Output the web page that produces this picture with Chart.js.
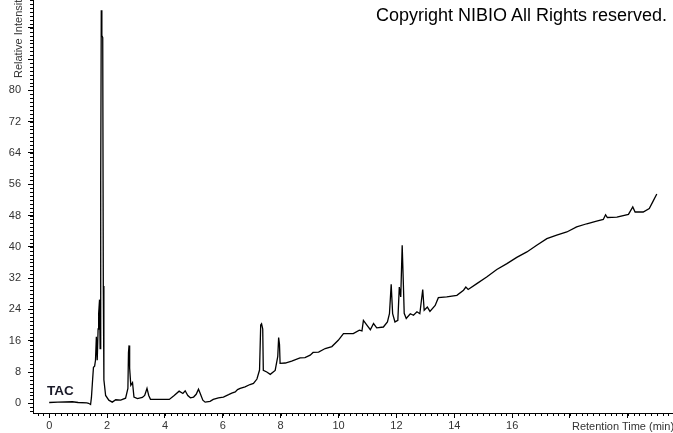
<!DOCTYPE html>
<html>
<head>
<meta charset="utf-8">
<script src="https://cdn.jsdelivr.net/npm/chart.js@4.4.1/dist/chart.umd.min.js"></script>
<style>
  body { margin: 0; background: #fff; }
  #wrap { position: relative; width: 673px; height: 433px; overflow: hidden; }
  .txt { position: absolute; white-space: nowrap; font-family: "Liberation Sans", Arial, sans-serif; }
  #copy { left: 376px; top: 5px; font-size: 18px; color: #000; }
  #tac { left: 47px; top: 383px; font-size: 13.5px; font-weight: bold; color: #1a1a28; }
  #ytitle { left: 12px; top: 78px; font-size: 11px; line-height: 13px; color: #333; transform: rotate(-90deg); transform-origin: 0 0; }
  #xtitle { left: 572px; top: 420px; font-size: 11px; line-height: 13px; color: #333; }
</style>
</head>
<body>
<div id="wrap">
  <canvas id="myChart" width="673" height="433"></canvas>
  <div class="txt" id="copy">Copyright NIBIO All Rights reserved.</div>
  <div class="txt" id="tac">TAC</div>
  <div class="txt" id="ytitle">Relative Intensity</div>
  <div class="txt" id="xtitle">Retention Time (min)</div>
</div>
<script>
// retention time (min) and relative intensity
const TIME = [
  0, 0.3, 0.8, 1.0, 1.3, 1.36, 1.43, 1.46, 1.50, 1.53, 1.57, 1.60, 1.63, 1.66, 1.69, 1.71, 1.74, 1.76,
  1.78, 1.80, 1.82, 1.85, 1.87, 1.89, 1.95, 2.06, 2.18, 2.30, 2.47, 2.64, 2.72, 2.74, 2.76, 2.78,
  2.82, 2.88, 2.93, 3.05, 3.22, 3.30, 3.38, 3.44, 3.50, 4.15, 4.32, 4.49, 4.62, 4.70, 4.79, 4.88,
  4.99, 5.08, 5.16, 5.22, 5.31, 5.39, 5.56, 5.67, 5.85, 6.02, 6.20, 6.31, 6.43, 6.51, 6.60, 6.77,
  6.94, 7.06, 7.18, 7.27, 7.31, 7.34, 7.38, 7.40, 7.52, 7.64, 7.81, 7.90, 7.93, 7.96, 7.98, 8.16,
  8.38, 8.67, 8.84, 9.02, 9.12, 9.31, 9.54, 9.77, 9.99, 10.17, 10.51, 10.72, 10.81, 10.86, 10.98,
  11.10, 11.21, 11.32, 11.55, 11.69, 11.76, 11.82, 11.87, 11.95, 12.05, 12.10, 12.15, 12.20, 12.24,
  12.27, 12.34, 12.48, 12.59, 12.71, 12.81, 12.91, 12.96, 13.07, 13.16, 13.34, 13.45, 13.74, 14.09,
  14.32, 14.40, 14.48, 14.78, 15.12, 15.47, 15.82, 16.16, 16.51, 16.85, 17.20, 17.54, 17.89, 18.23,
  18.58, 18.92, 19.15, 19.23, 19.29, 19.62, 20.02, 20.17, 20.25, 20.53, 20.74, 20.86, 21.00
]
const INTENSITY = [
  0.2, 0.3, 0.4, 0.2, 0.1, 0.0, -0.3, 1.5, 6, 9.2, 9.5, 11, 17, 11, 19, 23, 26.5, 14,
  57, 100.5, 94, 93.5, 30, 6, 2, 0.8, 0.3, 0.9, 0.8, 1.3, 3.8, 13, 14.8, 9,
  4.6, 5.3, 1.6, 1.2, 1.5, 2, 3.8, 2, 1, 1, 2, 3.1, 2.5, 3.2, 2, 1.4,
  1.6, 2.3, 3.6, 2.5, 0.8, 0.3, 0.5, 1, 1.4, 1.6, 2.2, 2.6, 2.9, 3.5, 3.8, 4.2,
  4.8, 5.1, 6.2, 8.5, 20, 20.3, 19, 8.4, 8, 7.4, 8.4, 12, 16.8, 15, 10.2, 10.3,
  10.8, 11.6, 11.7, 12.3, 13, 13.1, 14, 14.5, 16.1, 17.8, 17.8, 18.7, 18.5, 21.2, 20,
  18.8, 20.4, 19.3, 19.5, 20.8, 22.9, 30.4, 22.9, 20.8, 21.2, 29.7, 27.2, 40.4, 30.6,
  23, 21.7, 22.9, 22.5, 23.4, 22.9, 29.1, 23.8, 24.6, 23.5, 25, 27, 27.2, 27.6,
  28.9, 29.7, 29.1, 30.6, 32.3, 34.2, 35.7, 37.3, 38.7, 40.4, 42.1, 43, 43.8, 45.1,
  45.9, 46.6, 47, 48.2, 47.5, 47.6, 48.3, 50.2, 48.9, 48.9, 49.8, 51.5, 53.5
]
const X_TICKS = [0, 2, 4, 6, 8, 10, 12, 14, 16, 18, 20]
const X_LABEL_MAX = 16
const Y_TICKS = [0, 8, 16, 24, 32, 40, 48, 56, 64, 72, 80, 88, 96]
const Y_LABEL_MAX = 80
const X_MIN = -0.56, X_MAX = 21.56
const Y_MIN = -2.48, Y_MAX = 103.1
const X_MINOR = 0.2, Y_MINOR = 1

const tickFont = { family: "'Liberation Sans', Arial, sans-serif", size: 11 }

// small tick marks between the labelled ones
const minorTicksPlugin = {
  id: "minorTicks",
  afterDraw(chart) {
    const { ctx } = chart
    const x = chart.scales.x
    const y = chart.scales.y
    ctx.save()
    ctx.strokeStyle = "#000"
    ctx.lineWidth = 1
    ctx.beginPath()
    for (let i = Math.ceil(X_MIN / X_MINOR); i * X_MINOR <= X_MAX; i++) {
      const px = Math.round(x.getPixelForValue(i * X_MINOR)) + 0.5
      ctx.moveTo(px, x.top)
      ctx.lineTo(px, x.top + 3)
    }
    for (let i = Math.ceil(Y_MIN / Y_MINOR); i * Y_MINOR <= Y_MAX; i++) {
      const py = Math.round(y.getPixelForValue(i * Y_MINOR)) + 0.5
      ctx.moveTo(y.right, py)
      ctx.lineTo(y.right - 3, py)
    }
    ctx.stroke()
    ctx.restore()
  },
}

function noPadding(axis) {
  axis.paddingTop = 0
  axis.paddingBottom = 0
  axis.paddingLeft = 0
  axis.paddingRight = 0
}

const ctx = document.getElementById("myChart").getContext("2d")
const myChart = new Chart(ctx, {
  type: "line",
  data: {
    datasets: [
      {
        data: TIME.map((t, i) => ({ x: t, y: INTENSITY[i] })),
        borderColor: "#000",
        borderWidth: 1.3,
        pointRadius: 0,
        tension: 0,
        fill: false,
      },
    ],
  },
  options: {
    responsive: false,
    animation: false,
    devicePixelRatio: 1,
    layout: { padding: 0 },
    plugins: { legend: { display: false }, tooltip: { enabled: false } },
    scales: {
      x: {
        type: "linear",
        min: X_MIN,
        max: X_MAX,
        afterBuildTicks: (axis) => { axis.ticks = X_TICKS.map((v) => ({ value: v })) },
        afterFit: (axis) => { axis.height = 20; noPadding(axis) },
        border: { display: true, color: "#000", width: 1 },
        grid: { drawOnChartArea: false, drawTicks: true, tickLength: 5, color: "#000" },
        ticks: {
          autoSkip: false,
          maxRotation: 0,
          padding: 1,
          color: "#333",
          font: tickFont,
          callback: (value) => (value <= X_LABEL_MAX ? value : ""),
        },
      },
      y: {
        type: "linear",
        min: Y_MIN,
        max: Y_MAX,
        afterBuildTicks: (axis) => { axis.ticks = Y_TICKS.map((v) => ({ value: v })) },
        afterFit: (axis) => { axis.width = 33; noPadding(axis) },
        border: { display: true, color: "#000", width: 1 },
        grid: { drawOnChartArea: false, drawTicks: true, tickLength: 5, color: "#000" },
        ticks: {
          autoSkip: false,
          padding: 7,
          color: "#333",
          font: tickFont,
          callback: (value) => (value <= Y_LABEL_MAX ? value : ""),
        },
      },
    },
  },
  plugins: [minorTicksPlugin],
})
</script>
</body>
</html>
